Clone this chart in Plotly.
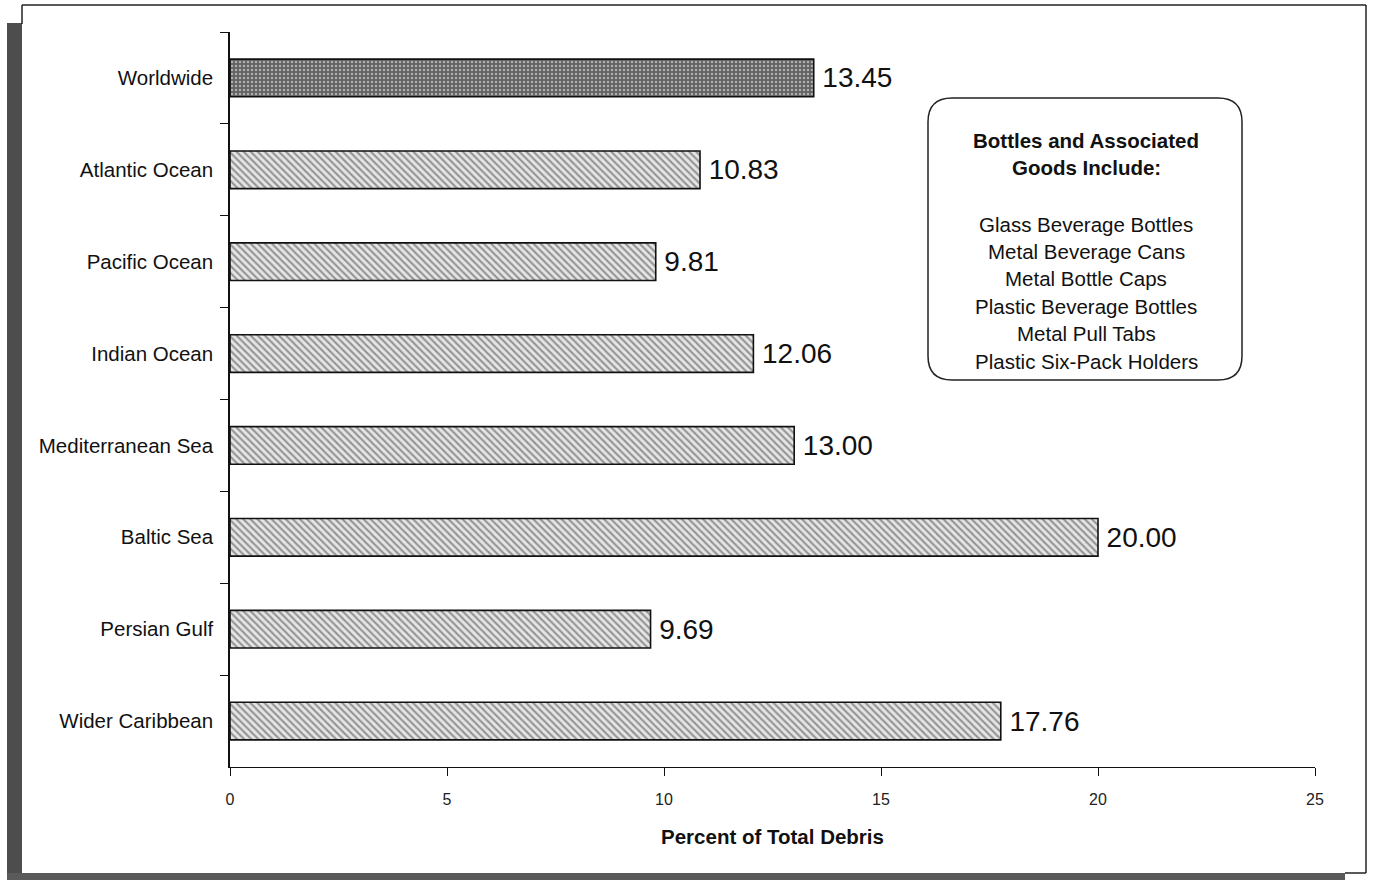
import plotly.graph_objects as go

categories = ["Worldwide", "Atlantic Ocean", "Pacific Ocean", "Indian Ocean",
              "Mediterranean Sea", "Baltic Sea", "Persian Gulf", "Wider Caribbean"]
values = [13.45, 10.83, 9.81, 12.06, 13.00, 20.00, 9.69, 17.76]
x_ticks = [0, 5, 10, 15, 20, 25]
box_title = ["Bottles and Associated", "Goods Include:"]
box_items = ["Glass Beverage Bottles", "Metal Beverage Cans", "Metal Bottle Caps",
             "Plastic Beverage Bottles", "Metal Pull Tabs", "Plastic Six-Pack Holders"]

W, H = 1373, 880
L, R, T, B = 230, 58, 32, 113
PW, PH = W - L - R, H - T - B

def px(xp):
    return (xp - L) / PW

def py(yp):
    return (H - B - yp) / PH

shapes_pattern = ["." if c == "Worldwide" else "\\" for c in categories]
fg = ["#a8a8a8" if c == "Worldwide" else "#1a1a1a" for c in categories]
bg = ["#626262" if c == "Worldwide" else "#e6e6e6" for c in categories]
sz = [4 if c == "Worldwide" else 5 for c in categories]
sol = [0.3 if c == "Worldwide" else 0.42 for c in categories]

fig = go.Figure()
fig.add_trace(go.Bar(
    y=categories, x=values, orientation="h", width=0.41,
    marker=dict(color=bg, line=dict(color="#111", width=1.6),
                pattern=dict(shape=shapes_pattern, fgcolor=fg, bgcolor=bg,
                             size=sz, solidity=sol, fillmode="overlay")),
    texttemplate="\u2009%{x:.2f}", textposition="outside", cliponaxis=False,
    constraintext="none",
    textfont=dict(family="Liberation Sans, Arial", size=28, color="#111"),
    showlegend=False, hoverinfo="skip",
))

font_f = "Liberation Sans, Arial, sans-serif"

shapes = []
# rounded info box
x0, x1 = px(928), px(1242)
y1, y0 = py(98), py(380)
rx, ry = 24 / PW, 24 / PH
path = (f"M {x0+rx},{y1} L {x1-rx},{y1} Q {x1},{y1} {x1},{y1-ry} "
        f"L {x1},{y0+ry} Q {x1},{y0} {x1-rx},{y0} L {x0+rx},{y0} "
        f"Q {x0},{y0} {x0},{y0+ry} L {x0},{y1-ry} Q {x0},{y1} {x0+rx},{y1} Z")
shapes.append(dict(type="path", xref="paper", yref="paper", path=path,
                   line=dict(color="#222", width=1.5), fillcolor="rgba(0,0,0,0)"))
# page frame (scanned border)
shapes.append(dict(type="rect", xref="paper", yref="paper", x0=px(7), x1=px(22),
                   y0=py(880), y1=py(23), fillcolor="#4d4d4d", line=dict(width=0)))
shapes.append(dict(type="rect", xref="paper", yref="paper", x0=px(7), x1=px(1345),
                   y0=py(881), y1=py(873), fillcolor="#5a5a5a", line=dict(width=0)))
shapes.append(dict(type="line", xref="paper", yref="paper", x0=px(22), x1=px(1366),
                   y0=py(5), y1=py(5), line=dict(color="#222", width=1.5)))
shapes.append(dict(type="line", xref="paper", yref="paper", x0=px(22), x1=px(22),
                   y0=py(5), y1=py(24), line=dict(color="#222", width=1.5)))
shapes.append(dict(type="line", xref="paper", yref="paper", x0=px(1366), x1=px(1366),
                   y0=py(5), y1=py(873), line=dict(color="#222", width=1.5)))
shapes.append(dict(type="line", xref="paper", yref="paper", x0=px(1345), x1=px(1366),
                   y0=py(873), y1=py(873), line=dict(color="#222", width=1.5)))

annotations = []
cx = px(1086)
title_y = [140, 167]
for t, yy in zip(box_title, title_y):
    annotations.append(dict(xref="paper", yref="paper", x=cx, y=py(yy), text=f"<b>{t}</b>",
                            showarrow=False, xanchor="center", yanchor="middle",
                            font=dict(family=font_f, size=20.5, color="#111")))
item_y = [224, 251, 278, 306, 333, 361]
for t, yy in zip(box_items, item_y):
    annotations.append(dict(xref="paper", yref="paper", x=cx, y=py(yy), text=t,
                            showarrow=False, xanchor="center", yanchor="middle",
                            font=dict(family=font_f, size=20.5, color="#111")))

fig.update_layout(
    width=W, height=H,
    margin=dict(l=L, r=R, t=T, b=B),
    paper_bgcolor="white", plot_bgcolor="white",
    font=dict(family=font_f, color="#111"),
    xaxis=dict(range=[0, 25], tickvals=x_ticks, ticks="outside", ticklen=8,
               tickwidth=1.2, tickcolor="#111", showline=True, linecolor="#111",
               linewidth=1.2, showgrid=False, zeroline=False,
               tickfont=dict(size=16, color="#222"), ticklabelstandoff=10,
               title=dict(text="<b>Percent of Total Debris</b>", standoff=22,
                          font=dict(size=20.5, color="#111"))),
    yaxis=dict(type="category", categoryorder="array", categoryarray=categories,
               autorange="reversed", ticks="outside", ticklen=8, tickwidth=1.2,
               tickcolor="#111", tickson="boundaries", showline=True,
               linecolor="#111", linewidth=1.5, showgrid=False,
               tickfont=dict(size=20.5, color="#111"), ticklabelstandoff=11),
    shapes=shapes, annotations=annotations,
)

fig.write_html("out.html")
